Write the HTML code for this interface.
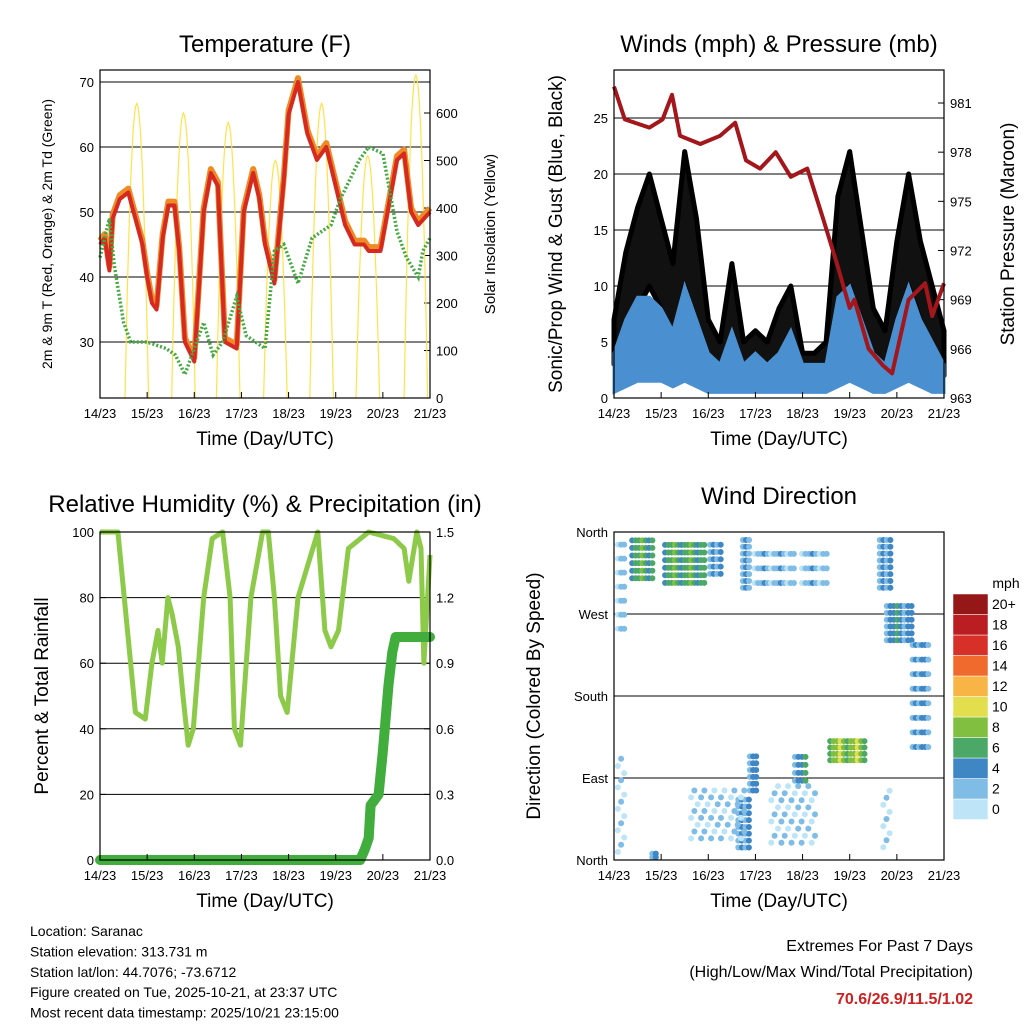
<!DOCTYPE html>
<html><head><meta charset="utf-8"><style>
body{margin:0;background:#fff}
svg{font-family:"Liberation Sans",sans-serif}
</style></head><body>
<svg id="s" width="1024" height="1024" viewBox="0 0 1024 1024" xmlns="http://www.w3.org/2000/svg"></svg>
<script>
// ---------- data ----------
const dayLabels=["14/23","15/23","16/23","17/23","18/23","19/23","20/23","21/23"];
const tempT=[0,0.1,0.2,0.27,0.42,0.6,0.9,1.0,1.1,1.2,1.33,1.45,1.58,1.68,1.8,2.0,2.2,2.35,2.5,2.65,2.9,3.05,3.25,3.38,3.5,3.7,3.9,4.0,4.2,4.4,4.6,4.8,5.2,5.4,5.6,5.7,5.95,6.3,6.45,6.6,6.75,7.0];
const tempV=[45,46,41,49,52,53,45,40,36,35,46,51,51,44,30,27,50,56,54,30,29,50,56,52,45,39,55,65,70,62,58,60,48,45,45,44,44,58,59,50,48,50];
const dewT=[0,0.2,0.3,0.5,0.65,1.0,1.4,1.6,1.8,2.0,2.2,2.4,2.6,2.9,3.1,3.5,3.7,3.9,4.2,4.5,4.9,5.1,5.3,5.5,5.7,6.0,6.3,6.5,6.75,6.85,7.0];
const dewV=[43,49,42,33,30,30,29,28,25,29,33,28,30,37,31,29,44,45,39,46,48,52,55,58,60,59,47,43,40,44,46];
const solarDay=[0,1,2,3,4,5,6];
const solarPeak=[620,600,580,500,620,510,680];
const solarCenter=[0.78,1.77,2.72,3.72,4.7,5.68,6.7];
const windT=[0,0.25,0.5,0.75,1,1.25,1.5,1.75,2,2.25,2.5,2.75,3,3.25,3.5,3.75,4,4.25,4.5,4.75,5,5.25,5.5,5.75,6,6.25,6.5,6.75,7];
const windHi=[4,7,9,9,8,6,10,7,4,3,6,3,4,3,4,6,3,3,3,9,10,7,4,3,7,10,7,5,3];
const windLo=[0.5,1,1.5,1.5,1.5,1,1.5,1,0.5,0.5,0.5,0.5,0.5,0.5,0.5,0.5,0.5,0.5,0.5,1,1.5,1,0.5,0.5,1,1.5,1,0.5,0.5];
const gustLo=[3,5,8,10,8,5,10,6,3,2,3,2,2,2,3,4,2,2,2,7,10,6,3,2,6,10,7,4,2];
const gustHi=[7,13,17,20,16,12,22,16,7,5,12,5,6,5,8,10,4,4,5,18,22,15,8,6,14,20,14,10,6];
const presT=[0,0.23,0.75,1.03,1.23,1.4,1.83,2.25,2.57,2.8,3.1,3.43,3.75,4.1,4.43,4.75,5.0,5.1,5.4,5.7,5.9,6.25,6.6,6.75,7.0];
const presV=[982,980,979.5,980,981.5,979,978.5,979,979.8,977.5,977,978,976.5,977,974,971,968.5,969,966,965,964.5,969,970,968,970];
const rhT=[0,0.38,0.75,0.96,1.1,1.23,1.32,1.44,1.53,1.66,1.76,1.87,1.98,2.2,2.38,2.6,2.76,2.85,2.98,3.2,3.45,3.57,3.7,3.83,3.97,4.2,4.62,4.77,4.9,5.06,5.27,5.7,6.23,6.45,6.55,6.72,6.81,6.87,7.0];
const rhV=[100,100,45,43,60,70,60,80,75,65,50,35,40,80,98,100,80,40,35,80,100,100,80,50,45,80,100,70,65,70,95,100,98,95,85,100,95,60,93];
const prT=[0,5.52,5.62,5.7,5.74,5.91,6.0,6.12,6.2,6.27,7.0];
const prV=[0,0,0.05,0.1,0.25,0.3,0.5,0.8,0.95,1.02,1.02];
const clT=[0.6,0.15,1.5,2.15,2.8,3.4,4.25,5.75,6.05,6.5,4.95,2.95,3.95,0.15,2.75,5.78,0.85,2.2,3.8];
const clTW=[0.5,0.2,0.9,0.3,0.2,0.9,0.6,0.3,0.6,0.4,0.8,0.2,0.3,0.2,0.3,0.2,0.15,1.2,1.0];
const clD=[330,300,325,330,325,320,320,325,260,180,120,95,100,60,40,45,5,50,50];
const clDW=[50,100,50,40,60,40,40,60,45,120,28,45,35,110,60,70,8,60,70];
const clS=[6,2,6,3,3,2,2,3,4,3,8,4,4,1,3,1,4,1,1];
const legendVals=["0","2","4","6","8","10","12","14","16","18","20+"];
const legendCols=["#bde5f7","#80bde6","#3f86c4","#4ba867","#80bf3f","#e3de4e","#f9b446","#ef6a2c","#d73028","#bb1e22","#961717"];

// ---------- helpers ----------
const S=document.getElementById('s');const NS="http://www.w3.org/2000/svg";
function el(tag,attrs,parent){const e=document.createElementNS(NS,tag);for(const k in attrs)e.setAttribute(k,attrs[k]);(parent||S).appendChild(e);return e;}
function txt(x,y,s,size,anchor,extra){const e=el('text',Object.assign({x:x,y:y,'font-size':size,'text-anchor':anchor||'middle',fill:'#000'},extra||{}));e.textContent=s;return e;}
function lin(a,b,c,d){return v=>c+(v-a)*(d-c)/(b-a);}
function pathOf(xs,ys,fx,fy){return xs.map((t,i)=>(i?'L':'M')+fx(t).toFixed(1)+','+fy(ys[i]).toFixed(1)).join('');}
function speedColor(s){return legendCols[Math.min(10,Math.max(0,Math.round(s/2)))];}
function xAxis(x0,x1,y){const fx=lin(0,7,x0,x1);
 dayLabels.forEach((l,i)=>{const t=txt(fx(i),y+20,l,13);
 
 el('line',{x1:fx(i),x2:fx(i),y1:y,y2:y-6,stroke:'#000'});});
 const at=txt((x0+x1)/2,y+47,"Time (Day/UTC)",19);return fx;}
function box(x,y,w,h,name){const r=el('rect',{x:x,y:y,width:w,height:h,fill:'none',stroke:'#000','stroke-width':1.2});}
function grid(x0,x1,y){el('line',{x1:x0,x2:x1,y1:y,y2:y,stroke:'#000','stroke-width':1});}
function yTick(x,y,l,side){el('line',{x1:x,x2:x+(side<0?6:-6),y1:y,y2:y,stroke:'#000'});const t=txt(x+(side<0?-6:6),y+5,l,13,side<0?'end':'start');}
function vtitle(x,y,s,size,name){const t=txt(x,y,s,size,'middle',{transform:`rotate(-90 ${x} ${y})`});}

// ---------- panel 1 ----------
(function(){const X0=100,X1=430,Y0=70,Y1=398;
const fx=lin(0,7,X0,X1),fy=lin(30,70,342,82),fs=lin(0,600,398,113);
const t=txt(265,52,"Temperature (F)",24);
[30,40,50,60,70].forEach(v=>{grid(X0,X1,fy(v));yTick(X0,fy(v),v,-1);});
[0,100,200,300,400,500,600].forEach(v=>yTick(X1,fs(v),v,1));
const sg=el('g',{});
solarDay.forEach((d,i)=>{let p='';for(let k=-10;k<=10;k++){const tt=solarCenter[i]+k*0.025;const v=solarPeak[i]*Math.max(0,1-(k/10)*(k/10));p+=(p?'L':'M')+fx(tt).toFixed(1)+','+fs(v).toFixed(1);}
 el('path',{d:p,fill:'none',stroke:'#ffe24a','stroke-width':1.2},sg);});
const o=el('path',{d:pathOf(tempT,tempV.map(v=>v+0.6),fx,fy),fill:'none',stroke:'#f08a24','stroke-width':6,'stroke-linejoin':'round'});
const r=el('path',{d:pathOf(tempT,tempV,fx,fy),fill:'none',stroke:'#d42a22','stroke-width':4,'stroke-linejoin':'round'});
const g=el('path',{d:pathOf(dewT,dewV,fx,fy),fill:'none',stroke:'#45a843','stroke-width':3.5,'stroke-dasharray':'2 2'});
box(X0,Y0,X1-X0,Y1-Y0,'temperature-plot-area');xAxis(X0,X1,Y1);
vtitle(52,234,"2m & 9m T (Red, Orange) & 2m Td (Green)",14,'temp-y-axis-title');
vtitle(495,234,"Solar Insolation (Yellow)",15,'solar-y-axis-title');})();

// ---------- panel 2 ----------
(function(){const X0=614,X1=944,Y0=70,Y1=398;
const fx=lin(0,7,X0,X1),fy=lin(0,25,398,118),fp=lin(963,981,398,103);
const t=txt(779,52,"Winds (mph) & Pressure (mb)",24);
[5,10,15,20,25].forEach(v=>grid(X0,X1,fy(v)));
[0,5,10,15,20,25].forEach(v=>yTick(X0,fy(v),v,-1));
[963,966,969,972,975,978,981].forEach(v=>yTick(X1,fp(v),v,1));
const gg=el('g',{});
el('path',{d:pathOf(windT,gustHi,fx,fy)+pathOf(windT.slice().reverse(),gustLo.slice().reverse(),fx,fy).replace('M','L')+'Z',fill:'#111',stroke:'#000','stroke-width':5,'stroke-linejoin':'round'},gg);
const bb=el('path',{d:pathOf(windT,windHi,fx,fy)+pathOf(windT.slice().reverse(),windLo.slice().reverse(),fx,fy).replace('M','L')+'Z',fill:'#4a90d0',stroke:'#4a90d0','stroke-width':3});
const p=el('path',{d:pathOf(presT,presV,fx,fp),fill:'none',stroke:'#a3161b','stroke-width':4,'stroke-linejoin':'round'});
box(X0,Y0,X1-X0,Y1-Y0,'winds-plot-area');xAxis(X0,X1,Y1);
vtitle(562,234,"Sonic/Prop Wind & Gust (Blue, Black)",19,'wind-y-axis-title');
vtitle(1014,234,"Station Pressure (Maroon)",19,'pressure-y-axis-title');})();

// ---------- panel 3 ----------
(function(){const X0=100,X1=430,Y0=532,Y1=860;
const fx=lin(0,7,X0,X1),fy=lin(0,100,860,532),fr=lin(0,1.5,860,532);
const t=txt(265,512,"Relative Humidity (%) & Precipitation (in)",24);
[20,40,60,80].forEach(v=>grid(X0,X1,fy(v)));
[0,20,40,60,80,100].forEach(v=>yTick(X0,fy(v),v,-1));
["0.0","0.3","0.6","0.9","1.2","1.5"].forEach(v=>yTick(X1,fr(+v),v,1));
const h=el('path',{d:pathOf(rhT,rhV,fx,fy),fill:'none',stroke:'#8dca4a','stroke-width':5,'stroke-linejoin':'round'});
const pr=el('path',{d:pathOf(prT,prV,fx,fr),fill:'none',stroke:'#40ad3d','stroke-width':10,'stroke-linejoin':'round','stroke-linecap':'round'});
box(X0,Y0,X1-X0,Y1-Y0,'humidity-plot-area');xAxis(X0,X1,Y1);
vtitle(48,696,"Percent & Total Rainfall",19,'humidity-y-axis-title');})();

// ---------- panel 4 ----------
(function(){const X0=614,X1=944,Y0=532,Y1=860;
const fx=lin(0,7,X0,X1),fy=lin(0,360,860,532);
const t=txt(779,504,"Wind Direction",24);
[90,180,270].forEach(v=>grid(X0,X1,fy(v)));
[[0,"North"],[90,"East"],[180,"South"],[270,"West"],[360,"North"]].forEach(a=>yTick(X0,fy(a[0]),a[1],-1));
const g=el('g',{});
clT.forEach((c,i)=>{const nx=Math.max(2,Math.round(clTW[i]*14)),ny=Math.max(2,Math.round(clDW[i]/8));
 const dense=clS[i]>=3&&clDW[i]<=60;
 const skip=clS[i]<=1?3:2;
 for(let a=0;a<nx;a++)for(let b=0;b<ny;b++){if(!dense&&(a*2+b)%skip)continue;
  const tt=c-clTW[i]/2+clTW[i]*(a+0.5)/nx, dd=clD[i]-clDW[i]/2+clDW[i]*(b+0.5)/ny;
  const sp=clS[i]+(((a*3+b*5)%5)-2)*0.6;
  el('circle',{cx:fx(tt).toFixed(1),cy:fy(dd).toFixed(1),r:3,fill:speedColor(sp)},g);}});
box(X0,Y0,X1-X0,Y1-Y0,'wind-direction-plot-area');xAxis(X0,X1,Y1);
vtitle(540,696,"Direction (Colored By Speed)",19,'direction-y-axis-title');
const lg=el('g',{});
const u=txt(1006,588,"mph",14);
legendVals.forEach((l,i)=>{const y=799-i*20.5;el('rect',{x:953,y:y,width:35,height:20.5,fill:legendCols[i],stroke:'#fff','stroke-width':0.5},lg);
 const tl=txt(992,y+15,l,14,'start');});})();

// ---------- footer ----------
["Location: Saranac","Station elevation: 313.731 m","Station lat/lon: 44.7076; -73.6712","Figure created on Tue, 2025-10-21, at 23:37 UTC","Most recent data timestamp: 2025/10/21 23:15:00"].forEach((s,i)=>{const t=txt(30,936+i*20.4,s,14,'start');});
let e=txt(973,951,"Extremes For Past 7 Days",16,'end');
e=txt(973,977,"(High/Low/Max Wind/Total Precipitation)",16,'end');
e=txt(973,1004,"70.6/26.9/11.5/1.02",16,'end',{fill:'#cc2222','font-weight':'bold'});
</script>
</body></html>
